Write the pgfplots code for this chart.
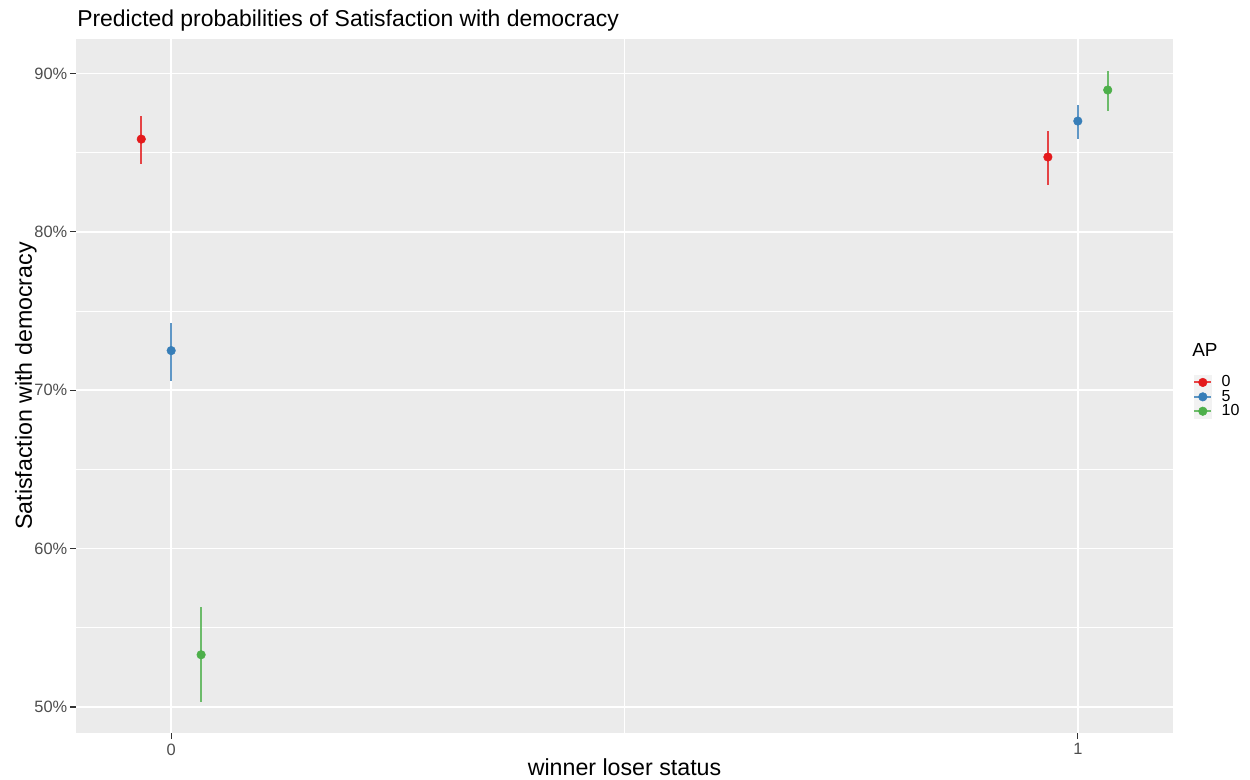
\documentclass[border=0pt]{standalone}
\usepackage{pgfplots}
\pgfplotsset{compat=1.18}
\usepackage{pgfplotstable}
\usepackage{fontspec}
\setmainfont{Liberation Sans}
\definecolor{c0}{HTML}{E41A1C}
\definecolor{c5}{HTML}{377EB8}
\definecolor{c10}{HTML}{4DAF4A}
\definecolor{panel}{HTML}{EBEBEB}
\definecolor{keybg}{HTML}{F2F2F2}
\definecolor{tickc}{HTML}{4D4D4D}
\definecolor{tickm}{HTML}{333333}

\pgfplotstableread{
x y ep em
-0.033 85.85 1.44 1.60
0.967 84.72 1.64 1.79
}\tabA
\pgfplotstableread{
x y ep em
0 72.50 1.75 1.90
1 86.99 1.03 1.15
}\tabB
\pgfplotstableread{
x y ep em
0.033 53.30 3.00 3.00
1.033 88.95 1.20 1.35
}\tabC

\begin{document}
\begin{tikzpicture}
\begin{axis}[
  at={(0pt,0pt)}, anchor=south west,
  scale only axis, width=822.75pt, height=520.5pt,
  xmin=-0.105, xmax=1.105, ymin=48.36, ymax=92.17,
  axis background/.style={fill=panel},
  axis line style={draw=none},
  xtick={0,1}, xticklabels={0,1}, minor xtick={0.5},
  ytick={50,60,70,80,90}, yticklabels={50\%,60\%,70\%,80\%,90\%},
  minor ytick={55,65,75,85},
  grid=both,
  major grid style={white, line width=1.1pt},
  minor grid style={white, line width=0.55pt},
  tick align=outside, xtick pos=bottom, ytick pos=left,
  major tick length=4.5pt, minor tick length=0pt,
  tick style={tickm, line width=0.8pt},
  ticklabel style={font=\fontsize{12.3}{14}\selectfont, text=tickc},
  yticklabel style={xshift=1.5pt},
  /pgf/number format/assume math mode=true,
  legend style={draw=none, fill=none, at={(1.0182,0.5159)}, anchor=north west,
    inner sep=0pt, font=\fontsize{12}{13}\selectfont, row sep=0pt,
    nodes={inner sep=0pt, text height=8.6pt, text depth=1.9pt}},
  legend cell align=left,
]
\addplot[only marks, mark=*, mark size=3.2pt, color=c0, forget plot,
  error bars/.cd, y dir=both, y explicit, error mark=none,
  error bar style={line width=1.6pt, draw opacity=0.8}]
  table[x=x, y=y, y error plus=ep, y error minus=em]{\tabA};
\addplot[only marks, mark=*, mark size=3.2pt, color=c5, forget plot,
  error bars/.cd, y dir=both, y explicit, error mark=none,
  error bar style={line width=1.6pt, draw opacity=0.8}]
  table[x=x, y=y, y error plus=ep, y error minus=em]{\tabB};
\addplot[only marks, mark=*, mark size=3.2pt, color=c10, forget plot,
  error bars/.cd, y dir=both, y explicit, error mark=none,
  error bar style={line width=1.6pt, draw opacity=0.8}]
  table[x=x, y=y, y error plus=ep, y error minus=em]{\tabC};

\addlegendimage{legend image code/.code={\fill[keybg] (0pt,-5.2pt) rectangle (12.75pt,5.2pt); \draw[c0,line width=1.6pt,draw opacity=0.8] (0pt,0pt)--(12.75pt,0pt); \fill[c0] (6.375pt,0pt) circle (3.2pt);}}
\addlegendentry{\hspace{7pt}0}
\addlegendimage{legend image code/.code={\fill[keybg] (0pt,-5.2pt) rectangle (12.75pt,5.2pt); \draw[c5,line width=1.6pt,draw opacity=0.8] (0pt,0pt)--(12.75pt,0pt); \fill[c5] (6.375pt,0pt) circle (3.2pt);}}
\addlegendentry{\hspace{7pt}5}
\addlegendimage{legend image code/.code={\fill[keybg] (0pt,-5.2pt) rectangle (12.75pt,5.2pt); \draw[c10,line width=1.6pt,draw opacity=0.8] (0pt,0pt)--(12.75pt,0pt); \fill[c10] (6.375pt,0pt) circle (3.2pt);}}
\addlegendentry{\hspace{7pt}10}
\end{axis}
\node[anchor=base west, font=\fontsize{17.2}{20}\selectfont, inner sep=0pt] at (0.75pt,529.5pt) {Predicted probabilities of Satisfaction with democracy};
\node[anchor=base, font=\fontsize{17.4}{20}\selectfont, inner sep=0pt] at (411.4pt,-31.5pt) {winner loser status};
\node[anchor=base, rotate=90, font=\fontsize{17.4}{20}\selectfont, inner sep=0pt] at (-33pt,260.25pt) {Satisfaction with democracy};
\node[anchor=base west, font=\fontsize{14.2}{16}\selectfont, inner sep=0pt] at (837pt,282pt) {AP};
\pgfresetboundingbox
\path[use as bounding box] (-57pt,-34.5pt) rectangle (880.5pt,549.75pt);
\end{tikzpicture}
\end{document}
